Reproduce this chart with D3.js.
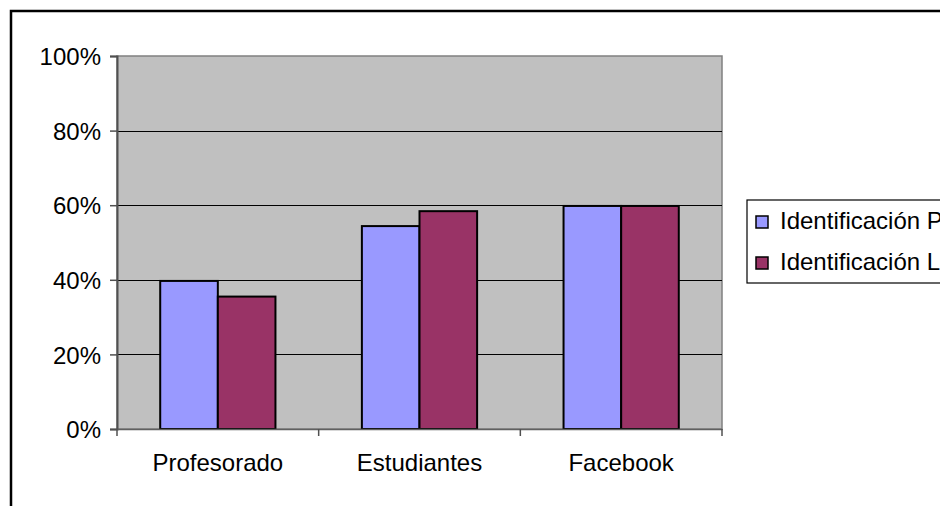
<!DOCTYPE html>
<html>
<head>
<meta charset="utf-8">
<script src="https://cdn.jsdelivr.net/npm/d3@7"></script>
<style>
  html, body { margin: 0; padding: 0; background: #fff; }
  svg { display: block; }
  text { font-family: "Liberation Sans", Arial, sans-serif; fill: #000; }
</style>
</head>
<body>
<svg id="chart" width="940" height="506"></svg>
<script>
// Shares of identification by group
const categories = ["Profesorado", "Estudiantes", "Facebook"];
const seriesNames = ["Identificación P", "Identificación L"];
const seriesP = [0.397, 0.544, 0.598];
const seriesL = [0.355, 0.584, 0.598];
const yTicks = [0, 0.2, 0.4, 0.6, 0.8, 1.0];
const colors = ["#9999FF", "#993366"];

const svg = d3.select("#chart");
const W = 940, H = 506;
const plot = { left: 117, right: 722, top: 56, bottom: 429 };
const fontSize = "24px";

// outer chart frame (runs past the right and bottom edges)
svg.append("rect")
  .attr("x", 11).attr("y", 11)
  .attr("width", W + 20).attr("height", H + 20)
  .attr("fill", "#fff").attr("stroke", "#000").attr("stroke-width", 2.5);

const x = d3.scaleBand().domain(categories).range([plot.left, plot.right]).padding(0);
const x1 = d3.scaleBand().domain(seriesNames).range([0, x.bandwidth()])
  .paddingInner(0).paddingOuter(0.75);
const y = d3.scaleLinear().domain([0, 1]).range([plot.bottom, plot.top]);

// plot area background
svg.append("rect")
  .attr("x", plot.left).attr("y", plot.top)
  .attr("width", plot.right - plot.left).attr("height", plot.bottom - plot.top)
  .attr("fill", "#C0C0C0").attr("stroke", "#808080").attr("stroke-width", 1.5);

// horizontal gridlines
svg.append("g").selectAll("line")
  .data(yTicks.filter(t => t > 0 && t < 1))
  .join("line")
  .attr("x1", plot.left).attr("x2", plot.right)
  .attr("y1", d => Math.round(y(d)) + 0.5).attr("y2", d => Math.round(y(d)) + 0.5)
  .attr("stroke", "#000").attr("stroke-width", 1);

// bars
const data = categories.map((c, i) => ({ cat: c, vals: [seriesP[i], seriesL[i]] }));
const groups = svg.append("g").selectAll("g")
  .data(data).join("g")
  .attr("transform", d => `translate(${x(d.cat)},0)`);
groups.selectAll("rect")
  .data(d => d.vals.map((v, k) => ({ key: seriesNames[k], v, k })))
  .join("rect")
  .attr("x", d => x1(d.key))
  .attr("y", d => y(d.v))
  .attr("width", x1.bandwidth())
  .attr("height", d => y(0) - y(d.v))
  .attr("fill", d => colors[d.k])
  .attr("stroke", "#000").attr("stroke-width", 2);

// y axis
const yAxis = svg.append("g")
  .attr("transform", `translate(${plot.left},0)`)
  .call(d3.axisLeft(y).tickValues(yTicks).tickFormat(d3.format(".0%")).tickSize(7).tickPadding(9));
yAxis.select(".domain").attr("stroke", "#505050").attr("stroke-width", 2);
yAxis.selectAll(".tick line").attr("stroke", "#505050").attr("stroke-width", 1.5);
yAxis.selectAll("text")
  .attr("font-size", fontSize).attr("fill", "#000")
  .attr("font-family", "Liberation Sans, Arial, sans-serif")
  .attr("dy", "0.36em");

// x axis line, boundary ticks and category labels
const xAxis = svg.append("g")
  .attr("transform", `translate(0,${plot.bottom})`)
  .call(d3.axisBottom(x).tickSize(0).tickPadding(25));
xAxis.select(".domain").attr("stroke", "#606060").attr("stroke-width", 1.5);
xAxis.selectAll("text")
  .attr("font-size", fontSize).attr("fill", "#000")
  .attr("font-family", "Liberation Sans, Arial, sans-serif");
const bounds = categories.map(c => x(c)).concat([x.range()[1]]);
xAxis.selectAll(".bound").data(bounds).join("line")
  .attr("class", "bound")
  .attr("x1", d => d).attr("x2", d => d)
  .attr("y1", 0).attr("y2", 7)
  .attr("stroke", "#505050").attr("stroke-width", 1.5);

// legend
const legend = svg.append("g").attr("transform", "translate(747,200)");
legend.append("rect")
  .attr("x", 0).attr("y", 0).attr("width", 260).attr("height", 83)
  .attr("fill", "#fff").attr("stroke", "#000").attr("stroke-width", 1.2);
const items = legend.selectAll(".item").data(seriesNames).join("g")
  .attr("class", "item")
  .attr("transform", (d, i) => `translate(0,${15 + i * 41})`);
items.append("rect")
  .attr("x", 9).attr("y", 1).attr("width", 12).attr("height", 12)
  .attr("fill", (d, i) => colors[i]).attr("stroke", "#000").attr("stroke-width", 1.5);
items.append("text")
  .attr("x", 33).attr("y", 13.5)
  .attr("font-size", fontSize)
  .text(d => d);
</script>
</body>
</html>
